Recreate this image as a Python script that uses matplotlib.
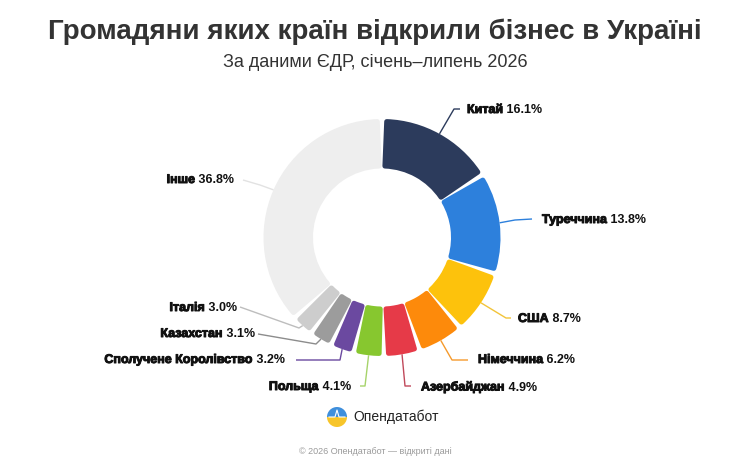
import numpy as np
import matplotlib
matplotlib.use("Agg")
import matplotlib.pyplot as plt
import matplotlib.patheffects as pe
from matplotlib.patches import Wedge

# Дані
countries = ["Китай", "Туреччина", "США", "Німеччина", "Азербайджан", "Польща",
             "Сполучене Королівство", "Казахстан", "Італія", "Інше"]
shares = [16.1, 13.8, 8.7, 6.2, 4.9, 4.1, 3.2, 3.1, 3.0, 36.8]
colors = ["#2c3b5c", "#2d80dc", "#fdc20c", "#fd8a0b", "#e63a48", "#87c72f",
          "#6b49a0", "#9c9c9c", "#cdcdcd", "#eeeeee"]
line_colors = ["#2c3b5c", "#2d80dc", "#f2c43a", "#f59a2c", "#c0485a", "#a6d36a",
               "#6b49a0", "#8c8c8c", "#bdbdbd", "#e2e2e2"]

title = "Громадяни яких країн відкрили бізнес в Україні"
subtitle = "За даними ЄДР, січень–липень 2026"
footer = "© 2026 Опендатабот — відкриті дані"

W, H = 750, 463
def Y(y):
    return H - y

# розкладка підписів (пікселі від верхнього лівого кута): злам, кінець лінії, текст, вирівнювання
label_layout = [
    ((454, 109), (460, 109), (467, 110), "left"),
    ((515, 220), (532, 219), (542, 220), "left"),
    ((506, 318), (511, 318), (518, 319), "left"),
    ((452, 360), (468, 360), (478, 360), "left"),
    ((405, 386), (411, 386), (421, 387), "left"),
    ((365, 386), (360, 386), (351, 387), "right"),
    ((340, 360), (296, 360), (285, 360), "right"),
    ((316, 344), (258, 334), (255, 334), "right"),
    ((299, 328), (240, 307), (237, 308), "right"),
    ((260, 185), (243, 180), (234, 180), "right"),
]

cx, cy = 382, 237.5
r_out, r_in = 118.5, 69

fig = plt.figure(figsize=(7.5, 4.63), dpi=100)
ax = fig.add_axes([0, 0, 1, 1])

wedges, _ = ax.pie(shares, colors=colors, startangle=90, counterclock=False,
                   center=(cx, Y(cy)), radius=r_out,
                   wedgeprops=dict(width=r_out - r_in))

# скруглені кути та білі проміжки між секторами
lw = 3.6
half = lw * 100 / 72 / 2
gap = 1.3
mid_r = (r_out + r_in) / 2
d_ang = np.degrees((half + gap) / mid_r)
for w, c in zip(wedges, colors):
    w.set_theta1(w.theta1 + d_ang)
    w.set_theta2(w.theta2 - d_ang)
    w.set_radius(r_out - half)
    w.set_width(r_out - r_in - 2 * half)
    w.set_edgecolor(c)
    w.set_linewidth(lw)
    w.set_joinstyle("round")

ax.set_xlim(0, W)
ax.set_ylim(0, H)
ax.set_aspect("equal")
ax.axis("off")

# лінії-виноски та підписи
for i, (name, val) in enumerate(zip(countries, shares)):
    th1 = wedges[i].theta1 - d_ang
    th2 = wedges[i].theta2 + d_ang
    mid = np.radians((th1 + th2) / 2)
    sx = cx + r_out * np.cos(mid)
    sy = Y(cy) + r_out * np.sin(mid)
    (ex, ey), (fx, fy), (tx, ty), ha = label_layout[i]
    ax.plot([sx, ex, fx], [sy, Y(ey), Y(fy)], color=line_colors[i], lw=1.0,
            solid_capstyle="butt", zorder=1)
    vtxt = f" {val:.1f}%"
    if ha == "left":
        t1 = ax.text(tx, Y(ty), name, ha="left", va="center", fontsize=9,
                     fontweight="bold", family="Liberation Sans", color="#111111",
                     path_effects=[pe.withStroke(linewidth=0.7, foreground="#111111")])
        ax.annotate(vtxt, xy=(1, 0), xycoords=t1, ha="left", va="bottom",
                    fontsize=9, fontweight="bold", family="Liberation Sans",
                    color="#111111")
    else:
        t2 = ax.text(tx, Y(ty), vtxt, ha="right", va="center", fontsize=9,
                     fontweight="bold", family="Liberation Sans", color="#111111")
        ax.annotate(name, xy=(0, 0), xycoords=t2, ha="right", va="bottom",
                    fontsize=9, fontweight="bold", family="Liberation Sans",
                    color="#111111",
                    path_effects=[pe.withStroke(linewidth=0.7, foreground="#111111")])

# заголовки
fig.text(0.5, 1 - 39 / H, title, ha="center", va="baseline", fontsize=20,
         fontweight="bold", family="Liberation Sans", color="#333333")
fig.text(0.5, 1 - 67 / H, subtitle, ha="center", va="baseline", fontsize=13,
         family="Liberation Sans", color="#333333")

# логотип
lx, ly, lr = 337, 417, 10
ax.add_patch(Wedge((lx, Y(ly)), lr, 0, 180, color="#3f8fdc", lw=0))
ax.add_patch(Wedge((lx, Y(ly)), lr, 180, 360, color="#f7c52a", lw=0))
ax.plot([lx - 8, lx - 2, lx, lx + 2, lx + 8],
        [Y(ly), Y(ly), Y(ly) + 7, Y(ly), Y(ly)], color="white", lw=0.8)
ax.text(353, Y(417), "Опендатабот", ha="left", va="center", fontsize=10,
        family="Liberation Sans", color="#222222")

fig.text(0.5, 1 - 451 / H, footer, ha="center", va="center", fontsize=6.5,
         family="Liberation Sans", color="#9a9a9a")

fig.savefig("out.png", dpi=100, facecolor="white")
